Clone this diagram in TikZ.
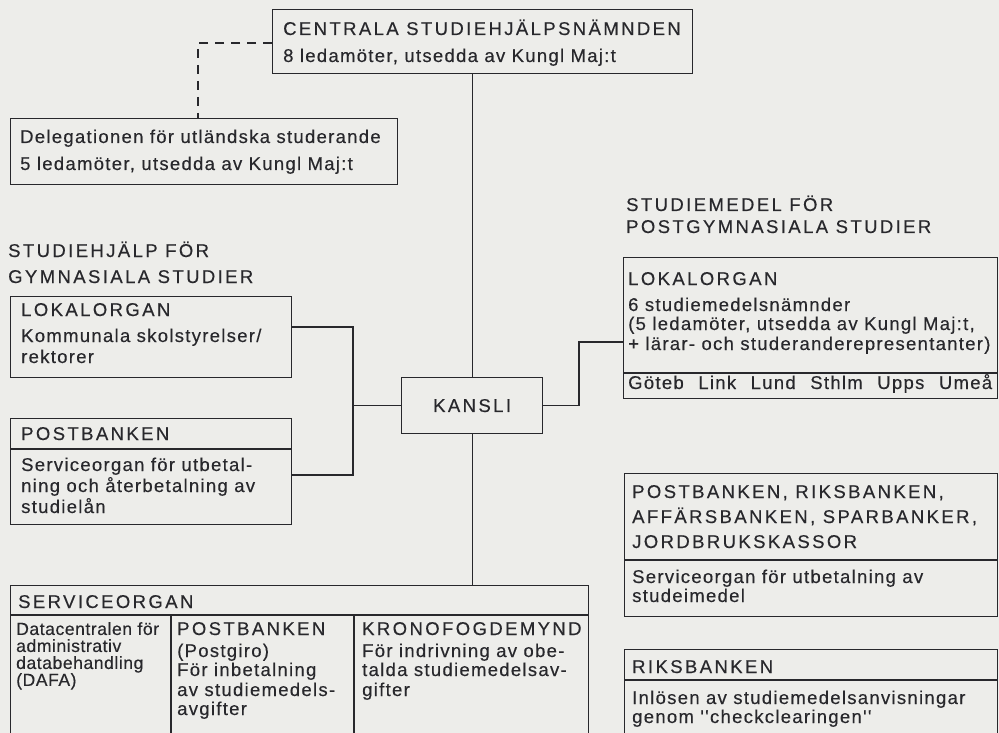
\documentclass[tikz,border=0pt]{standalone}
\usepackage{fontspec}
\newfontfamily\lbl{Liberation Sans}[LetterSpace=7,FakeBold=0.35]
\newfontfamily\lblc{Liberation Sans}[LetterSpace=13,FakeBold=0.35]
\newfontfamily\lbln{Liberation Sans}[LetterSpace=3,FakeBold=0.35]
\definecolor{paper}{RGB}{237,237,234}
\definecolor{ink}{RGB}{40,40,44}
\begin{document}
\begin{tikzpicture}[x=1pt,y=-1pt,
  box/.style={draw=ink,line width=1.2pt,rectangle,inner sep=0pt,anchor=north west},
  link/.style={draw=ink,line width=1.2pt},
  dashlink/.style={draw=ink,line width=1.2pt,dash pattern=on 9pt off 7pt},
  txt/.style={anchor=base west,inner sep=0pt,text=ink,font=\lbl\fontsize{18.5}{20}\selectfont},
  captxt/.style={anchor=base west,inner sep=0pt,text=ink,font=\lblc\fontsize{18.5}{20}\selectfont},
  ctxt/.style={anchor=center,inner sep=0pt,text=ink,font=\lblc\fontsize{18.5}{20}\selectfont}]
\useasboundingbox (0,0) rectangle (999,733);
\fill[paper] (0,0) rectangle (999,733);
\clip (0,0) rectangle (999,733);
% boxes
\node[box,minimum width=420pt,minimum height=64pt] (cen) at (272,9) {};
\node[box,minimum width=387pt,minimum height=66pt] (deleg) at (10,118) {};
\node[box,minimum width=281pt,minimum height=81pt] (lokL) at (10,296) {};
\node[box,minimum width=281pt,minimum height=106pt] (pbL) at (10,418) {};
\node[box,minimum width=141pt,minimum height=56pt] (kansli) at (401,377) {};
\node[box,minimum width=374pt,minimum height=141pt] (lokR) at (623,257) {};
\node[box,minimum width=373pt,minimum height=143pt] (pbR) at (624,473) {};
\node[box,minimum width=373pt,minimum height=100pt] (rbR) at (624,649) {};
\node[box,minimum width=578pt,minimum height=160pt] (serv) at (10,585) {};
% helper coordinates
\coordinate (dc) at (0,43);
\coordinate (dx) at (198,0);
\coordinate (lc) at (0,327);
\coordinate (pc) at (0,475);
\coordinate (bx) at (353,0);
\coordinate (rx) at (579,0);
\coordinate (rc) at (0,342);
\coordinate (dvA) at (0,449);
\coordinate (dvB) at (0,373);
\coordinate (dvC) at (0,560);
\coordinate (dvD) at (0,680);
\coordinate (dvE) at (0,615);
\coordinate (colA) at (171,0);
\coordinate (colB) at (354,0);
% connectors
\draw[link] (kansli.north) -- (kansli.north |- cen.south);
\draw[link] (kansli.south) -- (kansli.south |- serv.north);
\draw[dashlink] (cen.west |- dc) -| (dx |- deleg.north);
\draw[link] (lokL.east |- lc) -| (bx |- pc) -- (pbL.east |- pc);
\draw[link] (kansli.west) -- (bx |- kansli.west);
\draw[link] (kansli.east) -| (rx |- rc) -- (lokR.west |- rc);
% dividers
\draw[link] (pbL.west |- dvA) -- (pbL.east |- dvA);
\draw[link] (lokR.west |- dvB) -- (lokR.east |- dvB);
\draw[link] (pbR.west |- dvC) -- (pbR.east |- dvC);
\draw[link] (rbR.west |- dvD) -- (rbR.east |- dvD);
\draw[link] (serv.west |- dvE) -- (serv.east |- dvE);
\draw[link] (colA |- dvE) -- (colA |- serv.south);
\draw[link] (colB |- dvE) -- (colB |- serv.south);
% texts: central
\node[captxt] (t1) at (283,35) {CENTRALA STUDIEHJÄLPSNÄMNDEN};
\node[txt] (t2) at (283,62) {8 ledamöter, utsedda av Kungl Maj:t};
\node[txt] (t3) at (20,143) {Delegationen för utländska studerande};
\node[txt] (t4) at (20,170) {5 ledamöter, utsedda av Kungl Maj:t};
% left
\node[captxt] (t5) at (8,257) {STUDIEHJÄLP FÖR};
\node[captxt] (t6) at (8,283) {GYMNASIALA STUDIER};
\node[captxt] (t7) at (21,316) {LOKALORGAN};
\node[txt] (t8) at (21,342) {Kommunala skolstyrelser/};
\node[txt] (t9) at (21,363) {rektorer};
\node[captxt] (t10) at (21,440) {POSTBANKEN};
\node[txt] (t11) at (21,471) {Serviceorgan för utbetal-};
\node[txt] (t12) at (21,492) {ning och återbetalning av};
\node[txt] (t13) at (21,513) {studielån};
\node[ctxt] (t14) at (kansli.center) {KANSLI};
% right
\node[captxt] (t15) at (626,211) {STUDIEMEDEL FÖR};
\node[captxt] (t16) at (626,233) {POSTGYMNASIALA STUDIER};
\node[captxt] (t17) at (628,285) {LOKALORGAN};
\node[txt] (t18) at (628,311) {6 studiemedelsnämnder};
\node[txt] (t19) at (628,330) {(5 ledamöter, utsedda av Kungl Maj:t,};
\node[txt] (t20) at (628,350) {+ lärar- och studeranderepresentanter)};
\node[txt] (t21) at (628,389) {\makebox[364pt][s]{Göteb Link Lund Sthlm Upps Umeå}};
\node[captxt] (t22) at (632,498) {POSTBANKEN, RIKSBANKEN,};
\node[captxt] (t23) at (632,523) {AFFÄRSBANKEN, SPARBANKER,};
\node[captxt] (t24) at (632,548) {JORDBRUKSKASSOR};
\node[txt] (t25) at (632,583) {Serviceorgan för utbetalning av};
\node[txt] (t26) at (632,602) {studeimedel};
\node[captxt] (t27) at (632,673) {RIKSBANKEN};
\node[txt] (t28) at (632,704) {Inlösen av studiemedelsanvisningar};
\node[txt] (t29) at (632,723) {genom ''checkclearingen''};
% bottom
\node[captxt] (t30) at (18,608) {SERVICEORGAN};
\node[anchor=north west,inner sep=0pt,align=left,text=ink,font=\lbln\fontsize{17.6}{17}\selectfont] (t31) at (16,622)
  {Datacentralen för\\administrativ\\databehandling\\(DAFA)};
\node[captxt] (t35) at (177,635) {POSTBANKEN};
\node[txt] (t36) at (177,657) {(Postgiro)};
\node[txt] (t37) at (177,676) {För inbetalning};
\node[txt] (t38) at (177,696) {av studiemedels-};
\node[txt] (t39) at (177,715) {avgifter};
\node[captxt] (t40) at (362,635) {KRONOFOGDEMYND};
\node[txt] (t41) at (362,657) {För indrivning av obe-};
\node[txt] (t42) at (362,676) {talda studiemedelsav-};
\node[txt] (t43) at (362,696) {gifter};
\end{tikzpicture}
\end{document}
